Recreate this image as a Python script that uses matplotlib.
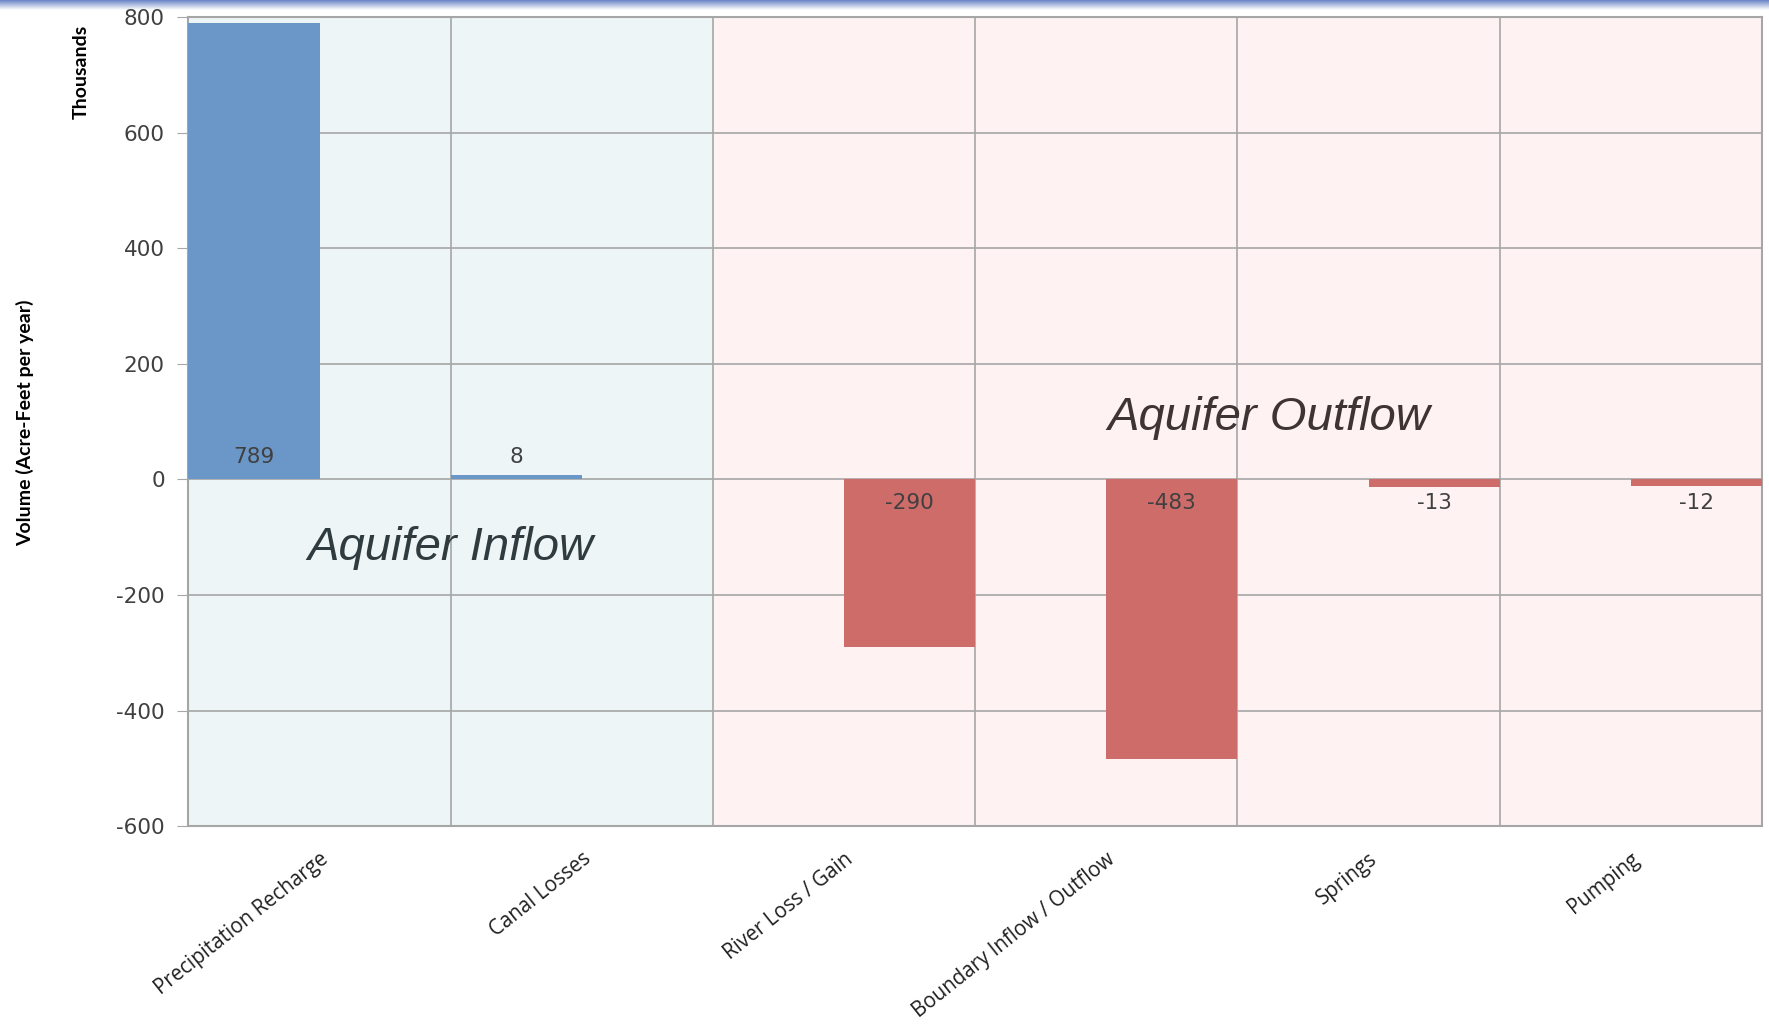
import matplotlib
matplotlib.use("Agg")
import matplotlib.pyplot as plt
import numpy as np
from matplotlib.colors import LinearSegmentedColormap

categories = ["Precipitation Recharge", "Canal Losses", "River Loss / Gain",
              "Boundary Inflow / Outflow", "Springs", "Pumping"]
inflow = [789, 8, 0, 0, 0, 0]
outflow = [0, 0, -290, -483, -13, -12]
yticks = [-600, -400, -200, 0, 200, 400, 600, 800]

BLUE = "#6A97C7"
RED = "#CE6C6A"
BG_IN = "#EDF5F6"
BG_OUT = "#FFF2F2"
GRID = "#A6A6A6"
TXT = "#404040"

fig = plt.figure(figsize=(17.69, 10.24), dpi=100)

# top gradient band
band = fig.add_axes([0, 0.990, 1, 0.010])
grad = np.linspace(0, 1, 50).reshape(-1, 1)
cm = LinearSegmentedColormap.from_list("b", ["#FFFFFF", "#5B78C0"])
band.imshow(grad, aspect="auto", cmap=cm, extent=[0, 1, 0, 1], origin="lower")
band.axis("off")

ax = fig.add_axes([0.1065, 0.193, 0.8895, 0.7905])
n = len(categories)
x = np.arange(n)

# background panels
ax.axvspan(0, 2, color=BG_IN, zorder=0, lw=0)
ax.axvspan(2, 6, color=BG_OUT, zorder=0, lw=0)

ax.bar(x, inflow, width=0.5, align="edge", color=BLUE, zorder=3)
ax.bar(x + 0.5, outflow, width=0.5, align="edge", color=RED, zorder=3)

for i in range(n):
    if inflow[i] != 0:
        ax.text(x[i] + 0.25, 38, f"{inflow[i]}", ha="center", va="center",
                fontsize=15.5, color=TXT, zorder=4)
    if outflow[i] != 0:
        ax.text(x[i] + 0.75, -41, f"{outflow[i]}", ha="center", va="center",
                fontsize=15.5, color=TXT, zorder=4)

ax.set_xlim(0, n)
ax.set_ylim(-600, 800)
ax.set_yticks(yticks)
ax.set_yticklabels([str(v) for v in yticks], fontsize=15.5, color=TXT)
ax.tick_params(axis="y", length=8, color=GRID, pad=9)
ax.set_xticks(x + 0.5)
ax.set_xticklabels(categories, rotation=38.5, ha="right", rotation_mode="anchor",
                   fontsize=14.8, family="Open Sans", color="#202020")
ax.tick_params(axis="x", length=0, pad=16)

for v in yticks:
    ax.axhline(v, color=GRID, lw=1.2, zorder=1)
for xv in range(n + 1):
    ax.axvline(xv, color=GRID, lw=1.2, zorder=1)

for s in ax.spines.values():
    s.set_color(GRID)
    s.set_linewidth(1.5)

ax.text(1.0, -118, "Aquifer Inflow", ha="center", va="center", fontsize=34,
        style="italic", family="Liberation Sans", color="#2F3B3F", zorder=5)
ax.text(4.12, 106, "Aquifer Outflow", ha="center", va="center", fontsize=34,
        style="italic", family="Liberation Sans", color="#3E3434", zorder=5)

fig.text(0.014, 0.587, "Volume (Acre-Feet per year)", rotation=90, ha="center",
         va="center", fontsize=14, family="Lato", weight="bold", color="#000000")
fig.text(0.046, 0.930, "Thousands", rotation=90, ha="center", va="center",
         fontsize=14, family="Lato", weight="bold", color="#000000")

fig.savefig("out.png", dpi=100)
